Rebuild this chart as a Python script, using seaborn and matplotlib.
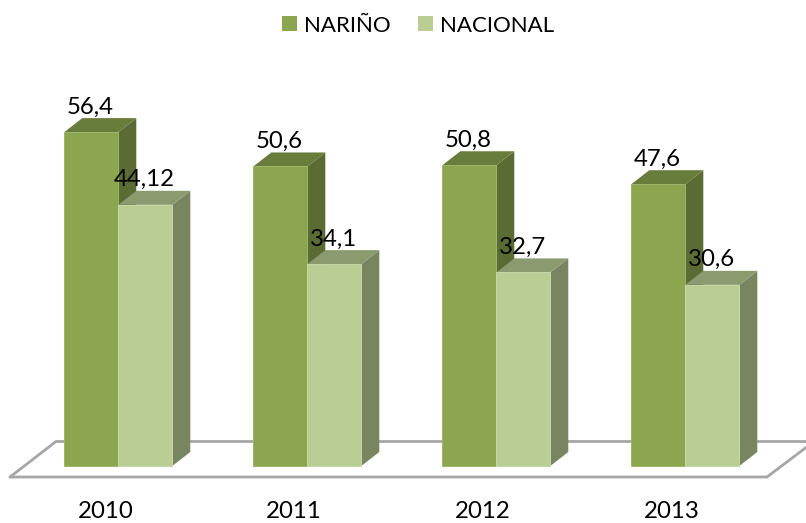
import matplotlib
matplotlib.use("Agg")
import matplotlib.pyplot as plt
import seaborn as sns
import pandas as pd
from matplotlib.patches import Polygon, Patch
from matplotlib.colors import to_rgb

years = ["2010", "2011", "2012", "2013"]
narino = [56.4, 50.6, 50.8, 47.6]
nacional = [44.12, 34.1, 32.7, 30.6]
labels_narino = ["56,4", "50,6", "50,8", "47,6"]
labels_nacional = ["44,12", "34,1", "32,7", "30,6"]
series_names = ["NARIÑO", "NACIONAL"]
colors = ["#8BA64E", "#BACD94"]
edge_tints = ["#9DB56A", "#C6D6A6"]

W, H = 806, 523
PX_X = 189.0     # pixels per category
PX_Y = 5.92      # pixels per value unit
X0, Y0 = 118.3, 466.0
DX, DY = 18.0, 14.0
FONT = "Lato"
FS = 17.3
FS_LEG = 16.0

sns.set_theme(style="white")
plt.rcParams["font.family"] = [FONT, "DejaVu Sans"]

fig = plt.figure(figsize=(W / 100, H / 100), dpi=100)
ax = fig.add_axes([0, 0, 1, 1])

df = pd.DataFrame({
    "year": years * 2,
    "value": narino + nacional,
    "serie": [series_names[0]] * 4 + [series_names[1]] * 4,
})
sns.barplot(data=df, x="year", y="value", hue="serie", hue_order=series_names,
            palette=colors, saturation=1, width=108 / PX_X, dodge=True,
            legend=False, ax=ax, linewidth=0, zorder=3)

ax.set_xlim(-X0 / PX_X, (W - X0) / PX_X)
ax.set_ylim(-(H - Y0) / PX_Y, Y0 / PX_Y)
ax.axis("off")

ddx, ddy = DX / PX_X, DY / PX_Y


def shade(c, f):
    return tuple(v * f for v in to_rgb(c))


bars = [p for p in ax.patches if p.get_height() > 0]
n = len(years)
groups = [(bars[:n], colors[0], labels_narino, edge_tints[0]),
          (bars[n:], colors[1], labels_nacional, edge_tints[1])]

# floor of the 3D plot
fy_front, fy_back = -11 / PX_Y, 24.5 / PX_Y
ax.plot([(10 - X0) / PX_X, (56 - X0) / PX_X, (W + 2 - X0) / PX_X], [fy_front, fy_back, fy_back],
        color="#A6A6A6", lw=2.0, zorder=1, solid_joinstyle="miter")
ax.plot([(10 - X0) / PX_X, (767 - X0) / PX_X, (W + 2 - X0) / PX_X], [fy_front, fy_front, fy_front + 31 / PX_Y],
        color="#A6A6A6", lw=2.0, zorder=1, solid_joinstyle="miter")

for s, (group, col, labs, tint) in enumerate(groups):
    for i, (b, lab) in enumerate(zip(group, labs)):
        x0, w, h = b.get_x(), b.get_width(), b.get_height()
        z = 3 + i * 2 + s * 0.5
        b.set_zorder(z)
        b.set_edgecolor(tint)
        b.set_linewidth(0.7)
        ax.add_patch(Polygon([(x0 + w, 0), (x0 + w + ddx, ddy), (x0 + w + ddx, h + ddy), (x0 + w, h)],
                             closed=True, fc=shade(col, 0.65), ec="none", zorder=z - 0.2))
        ax.add_patch(Polygon([(x0, h), (x0 + ddx, h + ddy), (x0 + w + ddx, h + ddy), (x0 + w, h)],
                             closed=True, fc=shade(col, 0.75), ec="none", zorder=z - 0.1))
        ax.text(x0 + 0.5 * w + (-1 if s == 0 else -1) / PX_X, h + ddy + (2 if s == 0 else 2.5) / PX_Y - 0.3,
                lab, ha="center", va="bottom", fontsize=FS, color="black", zorder=30)

for i, y in enumerate(years):
    ax.text(i - 13 / PX_X, -(511 - Y0) / PX_Y, y, ha="center", va="center",
            fontsize=FS, color="black", zorder=30)

handles = [Patch(fc=c, ec="none", label=n_) for c, n_ in zip(colors, series_names)]
ax.legend(handles=handles, ncol=2, frameon=False, loc="center",
          bbox_to_anchor=(418 / W, 1 - 25.5 / H), fontsize=FS_LEG,
          handlelength=0.68, handleheight=0.68, handletextpad=0.33, columnspacing=1.2,
          labelcolor="black")

fig.savefig("out.png", dpi=100, facecolor="white")
